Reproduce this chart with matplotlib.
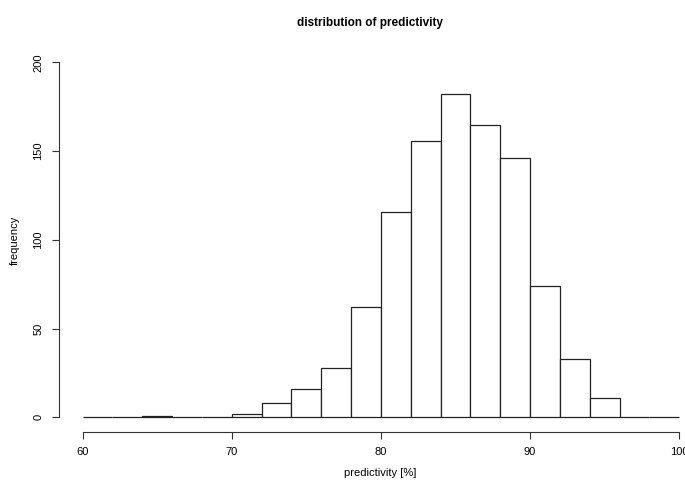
import matplotlib
matplotlib.use("Agg")
import matplotlib.pyplot as plt
import numpy as np

bin_edges = list(range(60, 101, 2))
counts = [0, 0, 1, 0, 0, 2, 8, 16, 28, 62, 116, 156, 182, 165, 146, 74, 33, 11, 0, 0]
x_ticks = [60, 70, 80, 90, 100]
y_ticks = [0, 50, 100, 150, 200]

plt.rcParams['font.family'] = ['Liberation Sans', 'DejaVu Sans']

fig = plt.figure(figsize=(6.85, 4.83), dpi=100)
ax = fig.add_axes([0.0858, 0.1066, 0.9405, 0.7934])

edges = np.array(bin_edges)
ax.bar(edges[:-1], counts, width=np.diff(edges), align='edge',
       facecolor='white', edgecolor='#222222', linewidth=0.9)

ax.set_xlim(58.4, 101.6)
ax.set_ylim(-8, 208)
for s in ['top', 'right']:
    ax.spines[s].set_visible(False)
ax.spines['left'].set_bounds(0, 200)
ax.spines['bottom'].set_bounds(60, 100)
for s in ['left', 'bottom']:
    ax.spines[s].set_color('#333333')
    ax.spines[s].set_linewidth(0.8)

ax.set_xticks(x_ticks)
ax.set_yticks(y_ticks)
ax.set_xticklabels([str(t) for t in x_ticks], fontsize=8)
ax.set_yticklabels([str(t) for t in y_ticks], fontsize=8, rotation=90, va='center')
ax.tick_params(axis='both', length=5, width=0.8, color='#333333', pad=6)

ax.set_xlabel('predictivity [%]', fontsize=8, va='center')
ax.xaxis.set_label_coords(0.5 * (82.3 + 679 - 2 * 58.8) / (703 - 58.8) + 0.0, -0.108)
ax.set_ylabel('frequency', fontsize=8, va='center')
ax.yaxis.set_label_coords(-0.068, (431.5 - 240) / (431.5 - 48.3))
ax.set_title('distribution of predictivity', fontsize=8.5, fontweight='bold', pad=16,
             x=(370 - 58.8) / (703 - 58.8))

fig.savefig('out.png', dpi=100)
